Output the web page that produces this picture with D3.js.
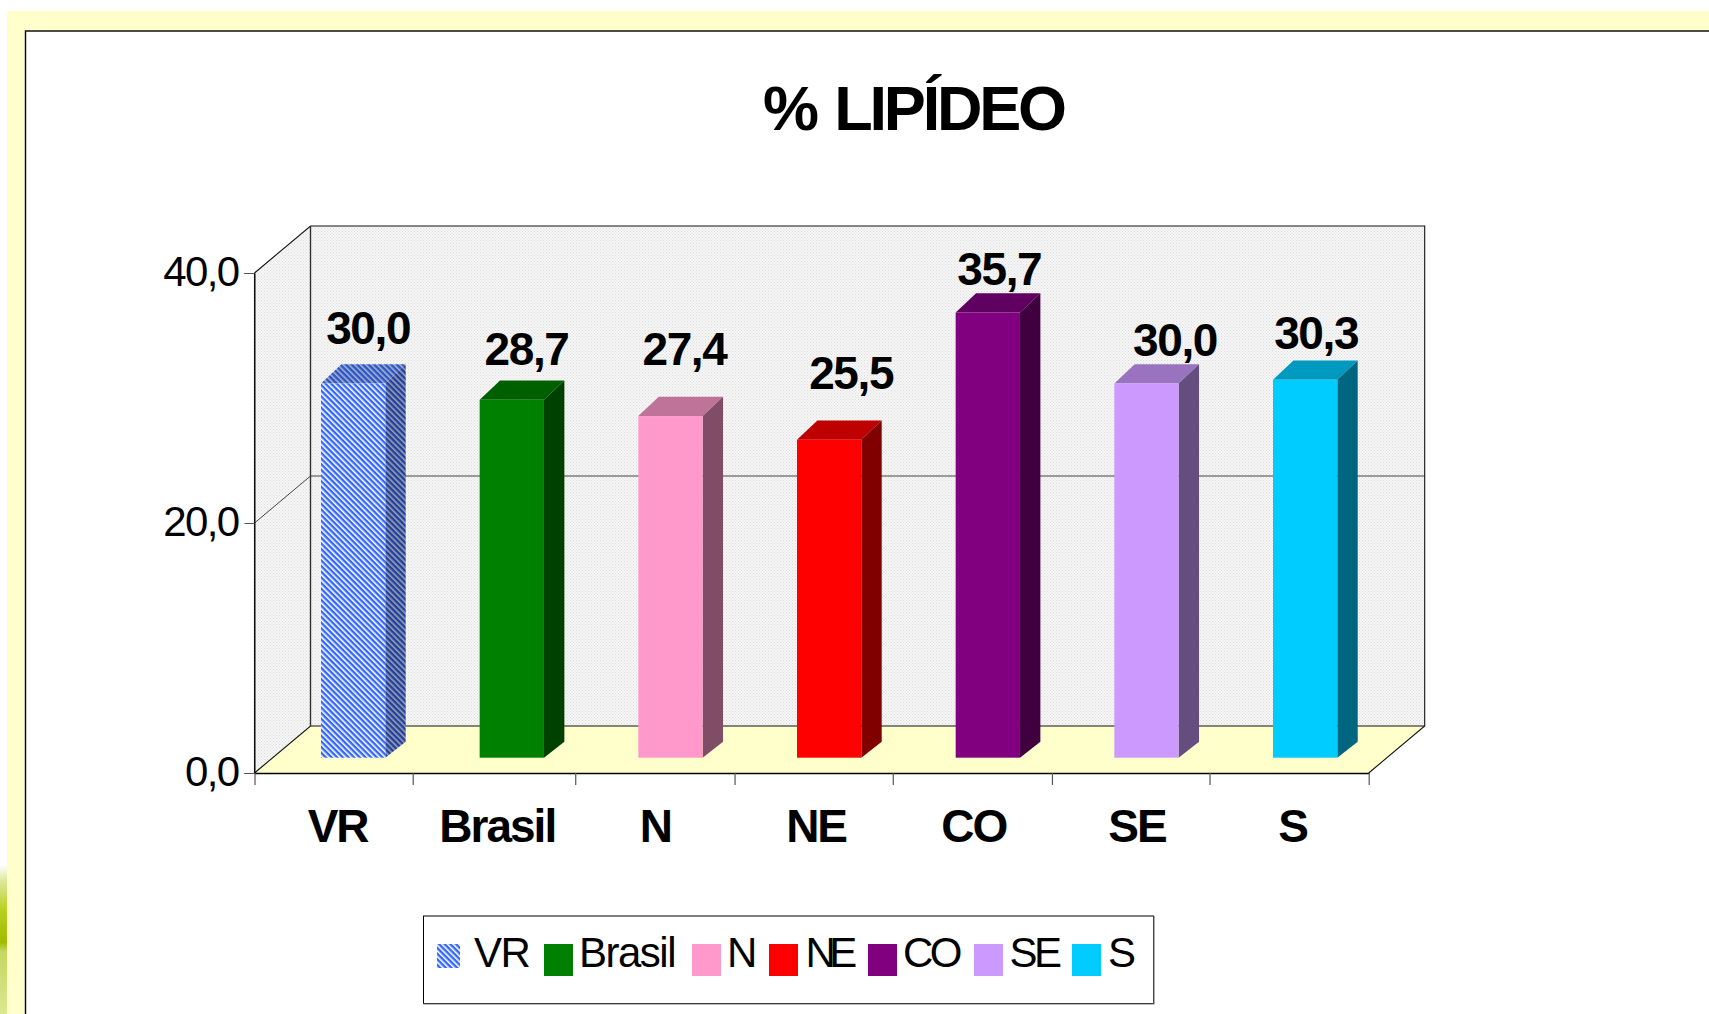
<!DOCTYPE html>
<html>
<head>
<meta charset="utf-8">
<script src="https://cdn.jsdelivr.net/npm/d3@7/dist/d3.min.js"></script>
<style>
html,body{margin:0;padding:0;background:#fff;overflow:hidden}
svg{display:block}
text{font-family:"Liberation Sans",Arial,sans-serif;fill:#000}
</style>
</head>
<body>
<div id="chart"></div>
<script>
// ---- data ----
const categories = ["VR", "Brasil", "N", "NE", "CO", "SE", "S"];
const values = [30.0, 28.7, 27.4, 25.5, 35.7, 30.0, 30.3];
const valueLabels = ["30,0", "28,7", "27,4", "25,5", "35,7", "30,0", "30,3"];
const yTicks = [0, 20, 40];
const titleText = "% LIPÍDEO";

// ---- styles / manual layout (separate from the data) ----
const colors = ["#3366ff", "#008000", "#ff99cc", "#ff0000", "#800080", "#cc99ff", "#00ccff"];
const valueLabelDx = [15, 14.7, 14, 22, 11.5, 28.5, 11];
const valueLabelDy = [-40, -35, -51, -51, -28, -28, -31];
const catLabelDx = [3.5, 4, 3, 4.5, 3, 7, 3.5];
const xTickPositions = [0, 0.994, 2.015, 3.016, 4.01, 5.01, 6, 7];
const legendSwatchX = [437, 544, 692, 769, 868, 974, 1072];
const legendTextX = [474, 579, 727, 805.5, 903, 1009.5, 1108];
const legendSpacing = [-1.5, -1.5, -2.2, -6.6, -3.6, -3.4, -2.2];

const W = 1709, H = 1014;
const svg = d3.select("#chart").append("svg").attr("width", W).attr("height", H);
const defs = svg.append("defs");

// wall dither
const wp = defs.append("pattern").attr("id", "wall").attr("patternUnits", "userSpaceOnUse")
  .attr("width", 3).attr("height", 3);
wp.append("rect").attr("width", 3).attr("height", 3).attr("fill", "#f6f6f6");
wp.append("rect").attr("width", 1).attr("height", 1).attr("fill", "#dcdcdc");
wp.append("rect").attr("x", 1.5).attr("y", 1.5).attr("width", 1).attr("height", 1).attr("fill", "#e0e0e0");

function hatch(id, bg, fg) {
  const p = defs.append("pattern").attr("id", id).attr("patternUnits", "userSpaceOnUse")
    .attr("width", 4).attr("height", 4).attr("patternTransform", "rotate(45)");
  p.append("rect").attr("width", 4).attr("height", 4).attr("fill", bg);
  p.append("rect").attr("width", 4).attr("height", 2.4).attr("fill", fg);
}
hatch("vrFront", "#ffffff", "#3366ff");
hatch("vrTop", "#a8b4cc", "#2a55c8");
hatch("vrSide", "#9aa2b8", "#223f99");

const blob = defs.append("linearGradient").attr("id", "blob").attr("x1", 0).attr("x2", 0).attr("y1", 0).attr("y2", 1);
[[0, "#ffffff"], [0.1, "#dfe9a0"], [0.3, "#b8d020"], [0.52, "#a0bc00"], [0.58, "#c4d860"], [1, "#dce890"]]
  .forEach(s => blob.append("stop").attr("offset", s[0]).attr("stop-color", s[1]));

// page background
svg.append("rect").attr("x", 0).attr("y", 865).attr("width", 8).attr("height", 149).attr("fill", "url(#blob)");
svg.append("rect").attr("x", 7).attr("y", 11).attr("width", W - 7).attr("height", H - 11).attr("fill", "#ffffcc");
svg.append("rect").attr("x", 25.5).attr("y", 31).attr("width", W).attr("height", H).attr("fill", "#fff")
  .attr("stroke", "#000").attr("stroke-width", 1.4);

// title
svg.append("text").attr("x", 913.5).attr("y", 129.5).attr("text-anchor", "middle")
  .attr("font-size", 63).attr("font-weight", "bold").attr("letter-spacing", -3.2).attr("word-spacing", 4).text(titleText);

// scales
const xLeft = 254.5, xRight = 1368.7, depthX = 56, depthY = 47;
const y = d3.scaleLinear().domain([0, 40]).range([773, 273]);
const xEdge = d3.scaleLinear().domain([0, categories.length]).range([xLeft, xRight]);
const xCat = d3.scaleBand().domain(categories).range([xLeft, xRight]);
const xBar = d3.scaleBand().domain(categories).range([273.8, 1384.5]).paddingInner(0.5947).paddingOuter(0.2974);
const yBar = d3.scaleLinear().domain([0, 40]).range([757.7, 258.9]);
const barDx = 20.4, barDyTop = 19.3, barDyBottom = 16;

const poly = pts => pts.map(p => p.join(",")).join(" ");
const yTop = y(40), yBot = y(0);

// walls + floor
svg.append("polygon").attr("points", poly([[xLeft, yTop], [xLeft + depthX, yTop - depthY], [xLeft + depthX, yBot - depthY], [xLeft, yBot]]))
  .attr("fill", "url(#wall)");
svg.append("rect").attr("x", xLeft + depthX).attr("y", yTop - depthY).attr("width", xRight - xLeft).attr("height", yBot - yTop)
  .attr("fill", "url(#wall)");
svg.append("polygon").attr("points", poly([[xLeft, yBot], [xLeft + depthX, yBot - depthY], [xRight + depthX, yBot - depthY], [xRight, yBot]]))
  .attr("fill", "#ffffcc");

// gridlines
const mid = yTicks.filter(t => t !== 0 && t !== 40);
svg.append("g").selectAll("polyline").data(mid).join("polyline")
  .attr("points", t => poly([[xLeft, y(t)], [xLeft + depthX, y(t) - depthY], [xRight + depthX, y(t) - depthY]]))
  .attr("fill", "none").attr("stroke", "#444").attr("stroke-width", 1);

// wall outlines
const edge = svg.append("g").attr("fill", "none").attr("stroke", "#111").attr("stroke-width", 1.1);
edge.append("polyline").attr("points", poly([[xLeft, yTop], [xLeft + depthX, yTop - depthY], [xRight + depthX, yTop - depthY], [xRight + depthX, yBot - depthY], [xRight, yBot]]));
edge.append("polyline").attr("points", poly([[xLeft, yBot], [xLeft + depthX, yBot - depthY], [xRight + depthX, yBot - depthY]]));
edge.append("line").attr("x1", xLeft + depthX).attr("x2", xLeft + depthX).attr("y1", yTop - depthY).attr("y2", yBot - depthY).attr("stroke", "#333").attr("stroke-width", 1.4);
edge.append("line").attr("x1", xLeft).attr("x2", xLeft).attr("y1", yTop).attr("y2", yBot);

// axes
const yAxis = svg.append("g").attr("transform", `translate(${xLeft},0)`)
  .call(d3.axisLeft(y).tickValues(yTicks).tickSize(10).tickPadding(6).tickFormat(d => d3.format(".1f")(d).replace(".", ",")));
yAxis.select(".domain").attr("stroke", "#111");
yAxis.selectAll(".tick line").attr("stroke", "#555");
yAxis.selectAll("text").attr("font-size", 42).attr("letter-spacing", -1.6).attr("dy", 12)
  .style("font-family", '"Liberation Sans",Arial,sans-serif');

const xAxis = svg.append("g").attr("transform", `translate(0,${yBot})`)
  .call(d3.axisBottom(xEdge).tickValues(xTickPositions).tickSize(12).tickSizeOuter(0).tickFormat(""));
xAxis.select(".domain").attr("stroke", "#000").attr("stroke-width", 1.3);
xAxis.selectAll(".tick line").attr("stroke", "#555").attr("stroke-width", 1.2);

// category labels
svg.append("g").selectAll("text").data(categories).join("text")
  .attr("x", (c, i) => xCat(c) + xCat.bandwidth() / 2 + catLabelDx[i])
  .attr("y", yBot + 68.7).attr("text-anchor", "middle")
  .attr("font-size", 46).attr("font-weight", "bold").attr("letter-spacing", -2).text(c => c);

// bars
const shade = (c, k) => { const r = d3.rgb(c); return d3.rgb(r.r * k, r.g * k, r.b * k).formatHex(); };
const bars = svg.append("g").selectAll("g").data(categories).join("g");
const bw = xBar.bandwidth();
bars.append("polygon")
  .attr("points", (c, i) => { const x = xBar(c), t = yBar(values[i]);
    return poly([[x, t], [x + barDx, t - barDyTop], [x + bw + barDx, t - barDyTop], [x + bw, t]]); })
  .attr("fill", (c, i) => i === 0 ? "url(#vrTop)" : shade(colors[i], 0.75));
bars.append("polygon")
  .attr("points", (c, i) => { const x = xBar(c) + bw, t = yBar(values[i]), b = yBar(0);
    return poly([[x, t], [x + barDx, t - barDyTop], [x + barDx, b - barDyBottom], [x, b]]); })
  .attr("fill", (c, i) => i === 0 ? "url(#vrSide)" : shade(colors[i], 0.5));
bars.append("rect")
  .attr("x", c => xBar(c)).attr("width", bw)
  .attr("y", (c, i) => yBar(values[i])).attr("height", (c, i) => yBar(0) - yBar(values[i]))
  .attr("fill", (c, i) => i === 0 ? "url(#vrFront)" : colors[i]);

// value labels
svg.append("g").selectAll("text").data(valueLabels).join("text")
  .attr("x", (d, i) => xBar(categories[i]) + bw / 2 + valueLabelDx[i])
  .attr("y", (d, i) => yBar(values[i]) + valueLabelDy[i])
  .attr("text-anchor", "middle").attr("font-size", 46).attr("font-weight", "bold").attr("letter-spacing", -1.4)
  .text(d => d);

// legend
const legend = svg.append("g");
legend.append("rect").attr("x", 423.5).attr("y", 916).attr("width", 730).attr("height", 87.5)
  .attr("fill", "#fff").attr("stroke", "#000").attr("stroke-width", 1);
legend.append("polyline").attr("points", poly([[1154, 916], [1154, 1004], [423.5, 1004]]))
  .attr("fill", "none").attr("stroke", "#777").attr("stroke-width", 1.2);
legend.selectAll("rect.sw").data(categories).join("rect").attr("class", "sw")
  .attr("x", (c, i) => legendSwatchX[i])
  .attr("y", 944)
  .attr("width", (c, i) => i === 0 ? 23 : 29)
  .attr("height", (c, i) => i === 0 ? 24 : 32)
  .attr("fill", (c, i) => i === 0 ? "url(#vrFront)" : colors[i]);
legend.selectAll("text").data(categories).join("text")
  .attr("x", (c, i) => legendTextX[i]).attr("y", 966.7)
  .attr("font-size", 42).attr("letter-spacing", (c, i) => legendSpacing[i]).text(c => c);
</script>
</body>
</html>
